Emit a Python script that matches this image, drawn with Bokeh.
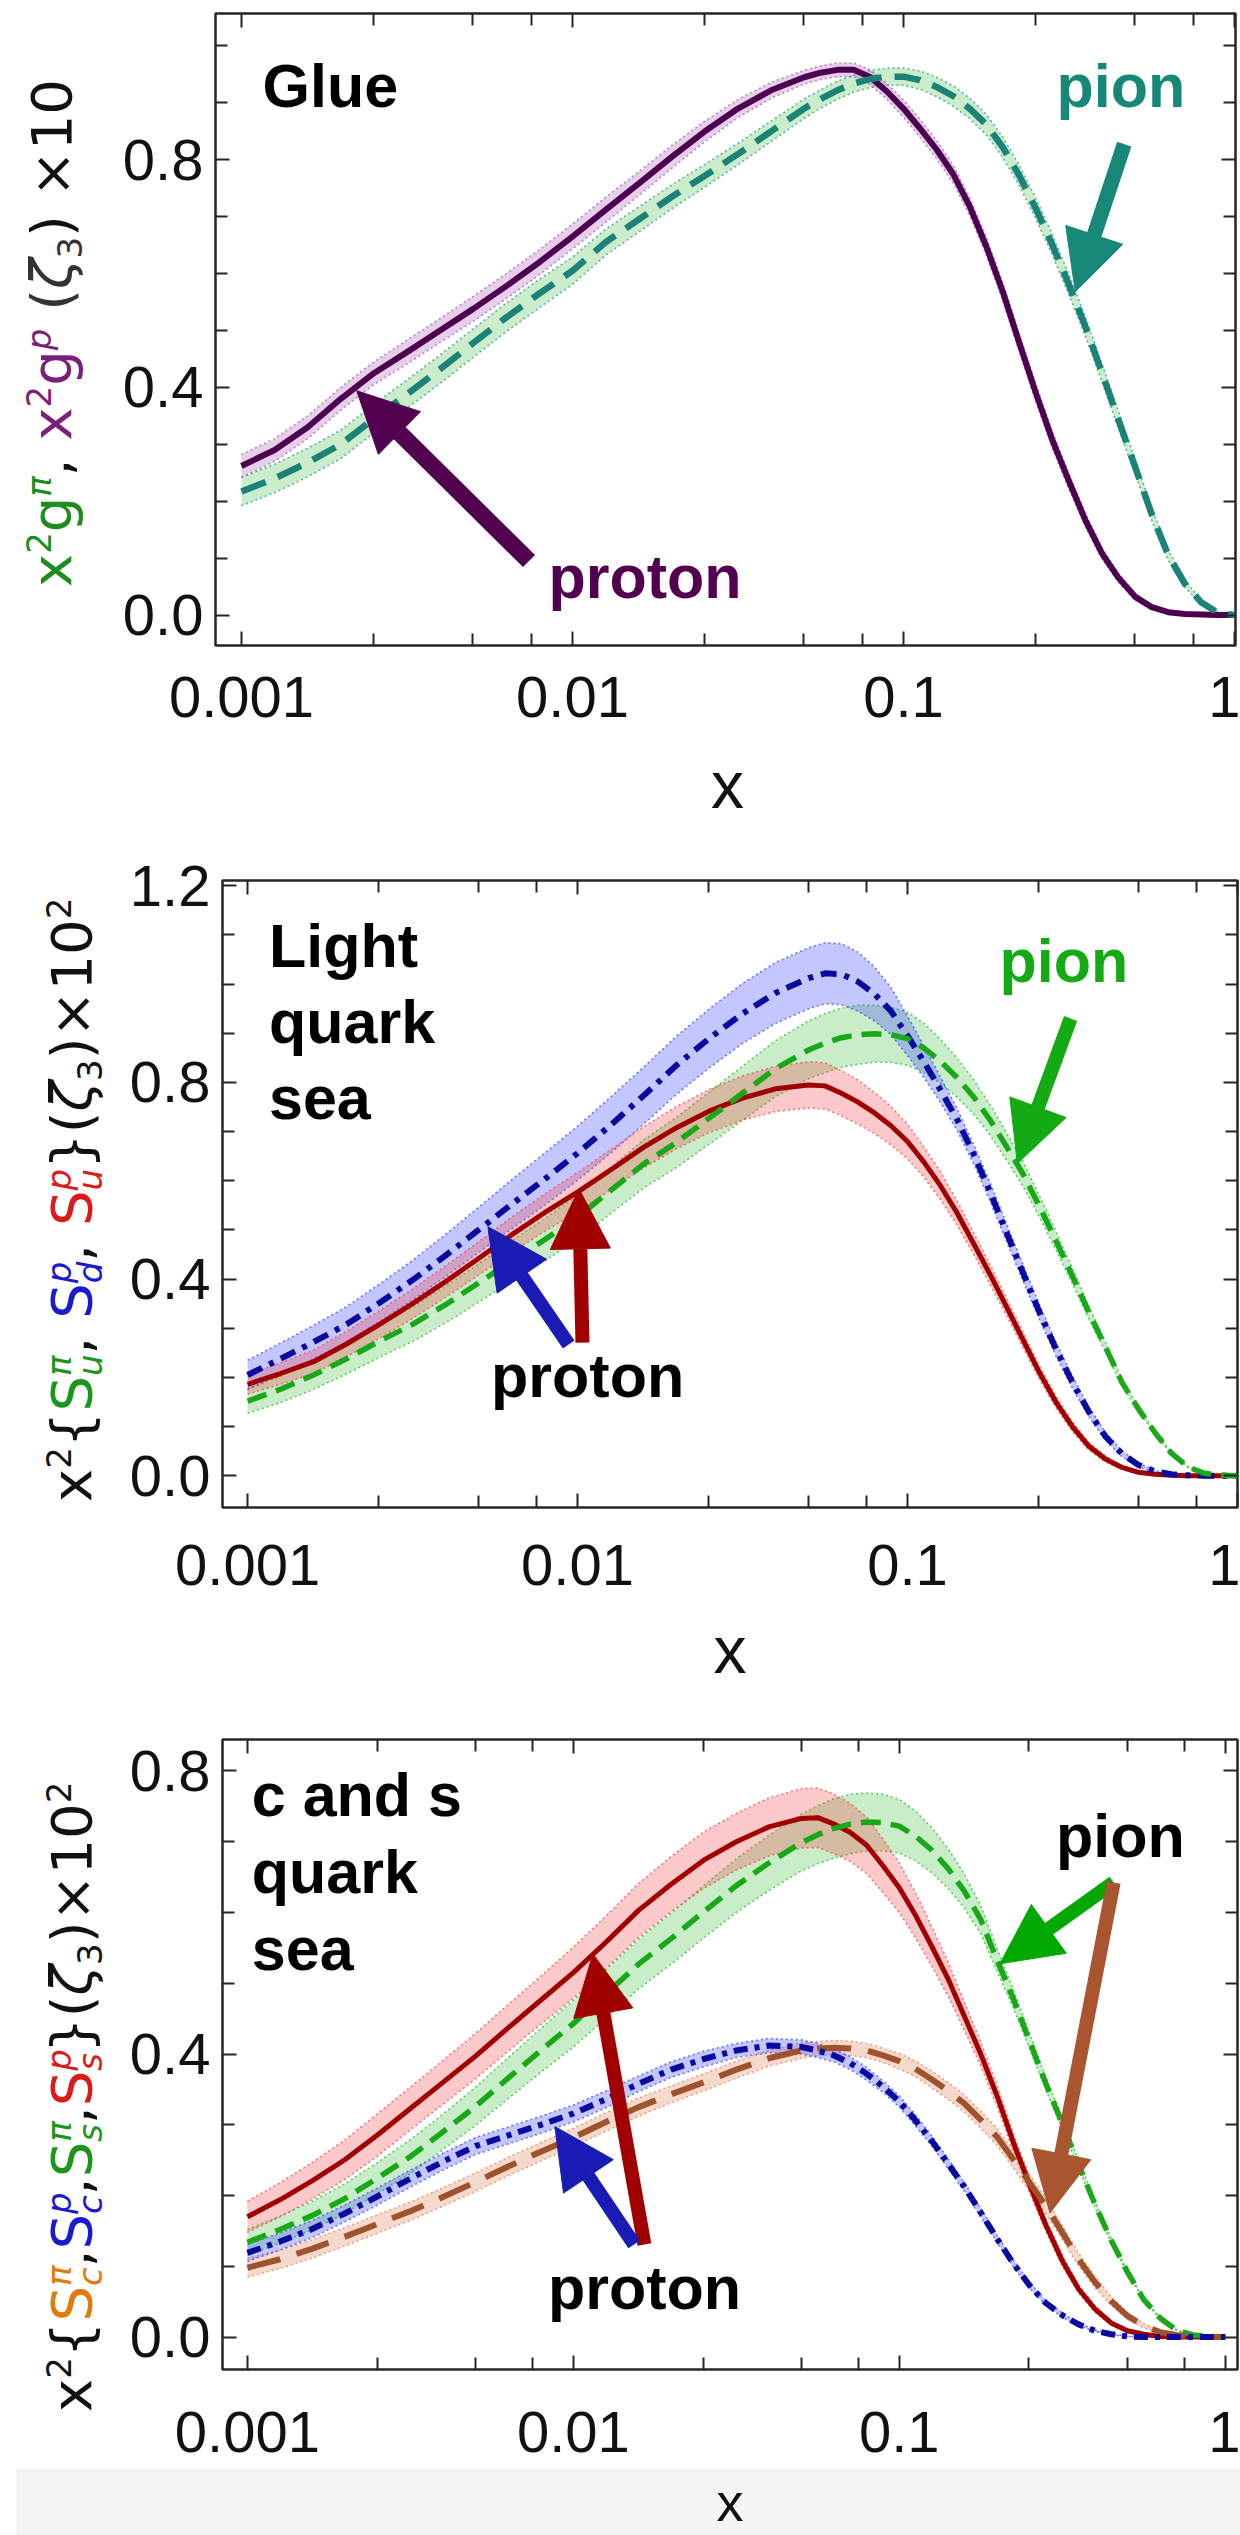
import math
from bokeh.plotting import figure
from bokeh.layouts import column, row
from bokeh.models import (Range1d, FixedTicker, LinearAxis, LogAxis, Label, Arrow, Div,
                          NormalHead, CustomJSTickFormatter, NumeralTickFormatter)
from bokeh.embed import file_html
from bokeh.resources import INLINE

# ---------------- data ----------------
LOGX = [-3.0, -2.9, -2.8, -2.7, -2.6, -2.5, -2.4, -2.3, -2.2, -2.1, -2.0, -1.9, -1.8, -1.7,
        -1.6, -1.5, -1.4, -1.3, -1.25, -1.2, -1.15, -1.1, -1.05, -1.0, -0.95, -0.9, -0.85,
        -0.8, -0.75, -0.7, -0.65, -0.6, -0.55, -0.5, -0.45, -0.4, -0.35, -0.3, -0.25, -0.2,
        -0.15, -0.1, -0.05, 0.0]

# Glue (x10)
GLUE_P = [.262, .290, .330, .380, .425, .462, .500, .538, .578, .620, .665, .712, .758, .805, .850, .890, .922, .945,
          .953, .958, .958, .945, .920, .890, .855, .818, .775, .718, .648, .568, .478, .390, .307, .235, .166, .108,
          .065, .032, .014, .005, .002, .001, .000, .000]
GLUE_P_ERR = [.020, .020, .020, .020, .020, .021, .021, .022, .022, .022, .022, .022, .021, .020, .018, .016, .014, .012,
              .012, .012, .012, .013, .014, .015, .016, .016, .016, .016, .016, .016, .016, .016, .015, .014, .012, .010,
              .008, .006, .004, .002, .001, .001, .000, .000]
GLUE_PI = [.217, .240, .268, .300, .345, .388, .432, .478, .523, .565, .605, .655, .695, .735, .772, .810, .850, .890,
           .907, .922, .934, .942, .946, .946, .940, .928, .912, .890, .862, .822, .772, .714, .650, .580, .506, .425,
           .342, .260, .177, .105, .055, .022, .004, .000]
GLUE_PI_ERR = [.025, .025, .025, .025, .025, .025, .025, .025, .025, .025, .024, .023, .022, .021, .020, .019, .018, .017,
               .016, .016, .015, .015, .015, .015, .016, .017, .018, .018, .018, .018, .018, .018, .018, .018, .017, .016,
               .015, .013, .011, .009, .006, .004, .002, .000]

# Light quark sea (x100)
LQ_DP = [.205, .238, .272, .308, .352, .398, .448, .500, .552, .603, .656, .713, .773, .835, .890, .940, .982, 1.012,
         1.022, 1.020, 1.005, .980, .945, .895, .842, .785, .725, .655, .578, .495, .413, .333, .258, .190, .130, .080,
         .045, .022, .009, .003, .001, .000, .000, .000]
LQ_DP_ERR = [.030, .032, .034, .036, .038, .040, .043, .046, .050, .053, .055, .057, .058, .059, .060, .061, .062, .062,
             .062, .062, .060, .055, .048, .040, .032, .026, .022, .020, .019, .018, .017, .015, .014, .012, .010, .008,
             .006, .004, .002, .001, .000, .000, .000, .000]
LQ_UP = [.186, .208, .232, .268, .308, .350, .395, .442, .490, .535, .577, .622, .668, .708, .742, .768, .787, .795,
         .793, .778, .760, .738, .712, .680, .638, .590, .535, .473, .410, .344, .277, .210, .150, .100, .060, .034,
         .017, .007, .003, .001, .000, .000, .000, .000]
LQ_UP_ERR = [.020, .022, .024, .026, .028, .030, .032, .034, .036, .038, .040, .041, .042, .043, .044, .045, .046, .047,
             .047, .046, .045, .042, .039, .035, .031, .028, .025, .022, .020, .018, .016, .014, .012, .010, .008, .006,
             .004, .003, .002, .001, .000, .000, .000, .000]
LQ_UPI = [.152, .176, .205, .238, .274, .308, .348, .392, .437, .480, .526, .580, .634, .678, .728, .778, .828, .866,
          .880, .891, .897, .899, .897, .889, .870, .843, .810, .771, .724, .670, .614, .548, .478, .406, .332, .262,
          .190, .136, .088, .046, .018, .005, .001, .000]
LQ_UPI_ERR = [.025, .027, .029, .031, .033, .035, .037, .039, .041, .043, .045, .047, .049, .051, .053, .055, .057, .059,
              .060, .060, .060, .058, .056, .054, .050, .045, .040, .035, .031, .028, .025, .022, .019, .016, .013, .010,
              .007, .005, .003, .002, .001, .000, .000, .000]

# c and s quark sea (x100)
CS_SP = [.170, .194, .221, .251, .286, .323, .360, .397, .437, .476, .515, .558, .603, .640, .674, .700, .721, .733,
         .734, .725, .713, .695, .666, .635, .596, .552, .506, .453, .400, .341, .275, .215, .158, .108, .068, .040,
         .020, .009, .004, .001, .000, .000, .000, .000]
CS_SP_ERR = [.022, .024, .026, .028, .030, .030, .031, .032, .033, .034, .036, .037, .038, .039, .040, .040, .041, .042,
             .042, .042, .041, .040, .038, .035, .032, .028, .024, .020, .017, .015, .013, .011, .009, .008, .006, .005,
             .003, .002, .001, .001, .000, .000, .000, .000]
CS_SPI = [.134, .152, .172, .196, .225, .255, .290, .326, .366, .405, .443, .485, .527, .563, .601, .638, .670, .699,
          .710, .719, .725, .728, .727, .722, .708, .688, .662, .630, .590, .533, .478, .418, .358, .302, .244, .188,
          .137, .092, .053, .027, .010, .003, .001, .000]
CS_SPI_ERR = [.018, .019, .020, .021, .022, .024, .025, .027, .029, .031, .033, .034, .035, .036, .037, .038, .039, .040,
              .041, .042, .042, .041, .040, .038, .035, .032, .028, .024, .020, .016, .013, .011, .009, .008, .006, .005,
              .003, .002, .001, .001, .000, .000, .000, .000]
CS_CP = [.119, .135, .153, .175, .199, .224, .248, .270, .285, .300, .316, .336, .358, .378, .393, .405, .412, .410,
         .405, .398, .387, .372, .354, .333, .306, .277, .245, .212, .176, .139, .104, .073, .048, .031, .018, .009,
         .004, .001, .000, .000, .000, .000, .000, .000]
CS_CP_ERR = [.012, .012, .012, .012, .012, .012, .012, .012, .012, .012, .012, .012, .011, .011, .011, .010, .010, .010,
             .010, .009, .009, .009, .008, .008, .008, .007, .007, .006, .006, .005, .005, .004, .003, .003, .002, .001,
             .001, .000, .000, .000, .000, .000, .000, .000]
CS_CPI = [.098, .110, .125, .142, .160, .178, .198, .219, .241, .262, .282, .304, .325, .343, .360, .378, .394, .405,
          .408, .409, .408, .405, .398, .390, .379, .364, .348, .330, .307, .283, .251, .218, .185, .148, .110, .078,
          .051, .030, .016, .007, .003, .001, .000, .000]
CS_CPI_ERR = [.013, .013, .013, .013, .013, .013, .013, .013, .013, .013, .013, .013, .013, .012, .012, .012, .011, .011,
              .010, .010, .010, .010, .010, .011, .011, .012, .012, .012, .012, .012, .012, .012, .011, .010, .009, .008,
              .006, .005, .003, .002, .001, .001, .000, .000]

XTICKS = [0.001, 0.01, 0.1, 1.0]
XMINOR = [0.0025, 0.005, 0.0075, 0.025, 0.05, 0.075, 0.25, 0.5, 0.75]

X = [10 ** v for v in LOGX]

# ---------------- helpers ----------------
TICK_COL = "#262626"
LW = 105  # width of the strip that carries the coloured y-axis titles
ADV = {' ': .318, ',': .318, '(': .390, ')': .390, '{': .636, '}': .636, 'x': .592, 'g': .635,
       'p': .635, 'S': .635, 'u': .634, 'd': .635, 'c': .550, 's': .521, 'π': .60, 'ζ': .50,
       '×': .838, '0': .636, '1': .636, '2': .636, '3': .636}


def no_align(f):
    if "frame_align" in f.properties():
        f.frame_align = False
    return f


def text_w(s, size):
    return sum(ADV.get(ch, .6) for ch in s) * size


def style_axis(ax, labels=True, standoff=12):
    ax.axis_line_color = None
    ax.major_tick_in = 14
    ax.major_tick_out = 0
    ax.minor_tick_in = 12
    ax.minor_tick_out = 0
    ax.major_tick_line_color = TICK_COL
    ax.major_tick_line_width = 2
    ax.minor_tick_line_color = TICK_COL
    ax.minor_tick_line_width = 2
    if labels:
        ax.major_label_text_font = "Liberation Sans"
        ax.major_label_text_font_size = "58px"
        ax.major_label_text_color = "#111111"
        ax.major_label_standoff = standoff
    else:
        ax.major_label_text_font_size = "0px"
        ax.major_label_standoff = 0
        ax.formatter = CustomJSTickFormatter(code="return '';")


def blank_fig(width, height, left=0, bg="white"):
    f = figure(width=width, height=height, x_range=Range1d(0, 1), y_range=Range1d(0, 1),
               output_backend="svg", toolbar_location=None, x_axis_location=None,
               y_axis_location=None, min_border_left=left, min_border_right=0,
               min_border_top=0, min_border_bottom=0)
    f.grid.visible = False
    f.outline_line_color = None
    f.background_fill_color = bg
    f.border_fill_color = "white"
    return no_align(f)


def make_fig(height, top, bottom, left, right, xlog, yr, yticks, yminor, xstand):
    p = figure(width=1240 - LW, height=height, x_axis_type="log",
               x_range=Range1d(10 ** xlog[0], 10 ** xlog[1]), y_range=Range1d(*yr),
               output_backend="svg", toolbar_location=None,
               min_border_top=top, min_border_bottom=bottom,
               min_border_left=left - LW, min_border_right=right)
    p.grid.visible = False
    p.outline_line_color = TICK_COL
    p.outline_line_width = 2.5
    p.background_fill_color = "white"
    p.border_fill_color = "white"
    p.xaxis.ticker = FixedTicker(ticks=XTICKS, minor_ticks=XMINOR)
    p.xaxis.formatter = CustomJSTickFormatter(code="return String(tick);")
    p.yaxis.ticker = FixedTicker(ticks=yticks, minor_ticks=yminor)
    p.yaxis.formatter = NumeralTickFormatter(format="0.0")
    for ax in p.xaxis:
        style_axis(ax, True, xstand)
    for ax in p.yaxis:
        style_axis(ax, True, 12)
    ta = LogAxis(ticker=FixedTicker(ticks=XTICKS, minor_ticks=XMINOR))
    style_axis(ta, False)
    p.add_layout(ta, "above")
    ra = LinearAxis(ticker=FixedTicker(ticks=yticks, minor_ticks=yminor))
    style_axis(ra, False)
    p.add_layout(ra, "right")
    return no_align(p)


def band(p, y, e, fill, alpha, edge):
    lo = [a - b for a, b in zip(y, e)]
    hi = [a + b for a, b in zip(y, e)]
    p.varea(x=X, y1=lo, y2=hi, fill_color=fill, fill_alpha=alpha)
    for yy in (lo, hi):
        p.line(X, yy, line_color=edge, line_width=1.6, line_dash="2 3", line_alpha=0.75)


def curve(p, y, color, width, dash="solid"):
    p.line(X, y, line_color=color, line_width=width, line_dash=dash, line_join="round")


def txt(p, s, sx, sy, color="black", fs=61, bold=True, align="left"):
    # sy is the wanted baseline; the label is anchored on the middle of its em box
    p.add_layout(Label(x=sx, y=sy + 0.3465 * fs, x_units="screen", y_units="screen", text=s,
                       text_font="Liberation Sans", text_font_size=f"{fs}px",
                       text_font_style="bold" if bold else "normal",
                       text_color=color, text_align=align, text_baseline="middle"))


def arrow(p, xs, ys, xe, ye, color, width=14, head=60):
    p.add_layout(Arrow(x_start=xs, y_start=ys, x_end=xe, y_end=ye, line_color=color,
                       line_width=width,
                       end=NormalHead(size=head, fill_color=color, line_color=color, line_width=1)))


def ylabel_div(pieces, height, start_top, baseline_x, fs=56, fs_small=34):
    """Vertical, multi-coloured axis title written as real (HTML) text, rotated by CSS."""
    parts = []
    for t, col in pieces:
        if t[0] in "^_":
            sup = sub = None
            for part in t.replace("_", "|_").replace("^", "|^").split("|"):
                if part.startswith("^"):
                    sup = part[1:]
                elif part.startswith("_"):
                    sub = part[1:]
            html = ""
            if sup:
                st = "font-style:italic;" if sup.isalpha() else ""
                html += (f'<span style="font-size:{fs_small}px;vertical-align:20px;{st}'
                         f'color:{col}">{sup}</span>')
            if sub:
                st = "font-style:italic;" if sub.isalpha() else ""
                ml = -text_w(sup, fs_small) if sup else 0
                html += (f'<span style="font-size:{fs_small}px;vertical-align:-11px;{st}'
                         f'margin-left:{ml:.1f}px;color:{col}">{sub}</span>')
            parts.append(html)
        else:
            st = "font-style:italic;" if t == "ζ" else ""
            parts.append(f'<span style="{st}color:{col}">{t.replace(" ", "&nbsp;")}</span>')
    left = baseline_x - 0.846 * fs
    inner = (f'<div style="position:absolute;left:{left:.1f}px;top:{start_top:.1f}px;'
             f'transform:rotate(-90deg);transform-origin:0 0;white-space:nowrap;'
             f'font-family:\'DejaVu Sans\';font-size:{fs}px;line-height:{fs}px;">'
             + "".join(parts) + "</div>")
    return Div(text=inner, width=LW, height=height, margin=(0, 0, 0, 0),
               styles={"position": "relative", "overflow": "visible"})


def xstrip(height, cx, center_from_bottom, left=0, bg="white", fs=66):
    f = blank_fig(1240 - left, height, 0, bg)
    f.add_layout(Label(x=cx - left, y=center_from_bottom + 0.087 * fs, x_units="screen",
                       y_units="screen", text="x", text_font="Liberation Sans",
                       text_font_size=f"{fs}px", text_color="#111111", text_align="center",
                       text_baseline="middle"))
    if left:
        return row(blank_fig(left, height), f, spacing=0)
    return f


K = "#111111"
K2 = "#333333"

# ---------------- panel 1 : glue ----------------
p1 = make_fig(740, 13, 95, 215, 5, (-3.0785, 0.003), (-0.0535, 1.057),
              [0, 0.4, 0.8], [0.1, 0.2, 0.3, 0.5, 0.6, 0.7, 0.9, 1.0], 31)
band(p1, GLUE_PI, GLUE_PI_ERR, "#2EB82E", 0.25, "#2E9E8E")
band(p1, GLUE_P, GLUE_P_ERR, "#9B3FA8", 0.25, "#B060C0")
curve(p1, GLUE_P, "#4D0050", 6)
curve(p1, GLUE_PI, "#1A8276", 6.5, "26 13")
txt(p1, "Glue", 47, 538)
txt(p1, "pion", 841, 538, color="#178878")
txt(p1, "proton", 333, 47, color="#520050")
arrow(p1, 0.00739, 0.095, 0.00223, 0.394, "#520050", 17)
arrow(p1, 0.4645, 0.8275, 0.3304, 0.568, "#178878", 15)
G1, P1 = "#1E8C1E", "#7B1F7B"
l1 = ylabel_div([("x", G1), ("^2", G1), ("g", G1), ("^π", G1), (", ", K), ("x", P1), ("^2", P1),
                 ("g", P1), ("^p", P1), (" (", K2), ("ζ", K2), ("_3", K2), (") ×10", K)],
                740, 587, 58)
s1 = xstrip(105, 727, 845 - 790)

# ---------------- panel 2 : light quark sea ----------------
p2 = make_fig(755, 35, 93, 222, 3, (-3.0761, 0.0003), (-0.0645, 1.2107),
              [0, 0.4, 0.8, 1.2], [0.1, 0.2, 0.3, 0.5, 0.6, 0.7, 0.9, 1.0, 1.1], 37)
band(p2, LQ_UPI, LQ_UPI_ERR, "#28B428", 0.25, "#30C030")
band(p2, LQ_DP, LQ_DP_ERR, "#3C46FF", 0.30, "#4050FF")
band(p2, LQ_UP, LQ_UP_ERR, "#F03C3C", 0.28, "#F05050")
curve(p2, LQ_UP, "#A00000", 5)
curve(p2, LQ_DP, "#0A0AA0", 6, "16 8 5 8")
curve(p2, LQ_UPI, "#18A818", 5.5, "20 10")
txt(p2, "Light", 46.5, 540)
txt(p2, "quark", 46.5, 464)
txt(p2, "sea", 46.5, 388)
txt(p2, "pion", 777, 525, color="#14AA14")
txt(p2, "proton", 268.6, 110.4)
arrow(p2, 0.0094, 0.267, 0.00535, 0.5066, "#1A1AB4", 14)
arrow(p2, 0.01035, 0.271, 0.0101, 0.5837, "#A00000", 14)
arrow(p2, 0.3122, 0.930, 0.2153, 0.635, "#14AA14", 14)
G2, B2, R2 = "#1A961A", "#1A1ACF", "#DD1A1A"
l2 = ylabel_div([("x", K), ("^2", K), ("{", K), ("S", G2), ("^π_u", G2), (", ", K), ("S", B2),
                 ("^p_d", B2), (", ", K), ("S", R2), ("^p_u", R2), ("}(", K), ("ζ", K), ("_3", K),
                 (")×10", K), ("^2", K)],
                755, 1502 - 845, 78)
s2 = xstrip(90, 729.5, 1690 - 1655)

# ---------------- panel 3 : c and s quark sea ----------------
p3 = make_fig(778, 49, 99, 222, 3, (-3.0764, 0.0377), (-0.0458, 0.8445),
              [0, 0.4, 0.8], [0.1, 0.2, 0.3, 0.5, 0.6, 0.7], 42)
band(p3, CS_SPI, CS_SPI_ERR, "#28B428", 0.25, "#30C030")
band(p3, CS_SP, CS_SP_ERR, "#F03C3C", 0.28, "#F05050")
band(p3, CS_CPI, CS_CPI_ERR, "#E0966E", 0.35, "#F08060")
band(p3, CS_CP, CS_CP_ERR, "#3C46FF", 0.30, "#4050FF")
curve(p3, CS_SP, "#A00000", 5)
curve(p3, CS_SPI, "#18A818", 5.5, "20 10")
curve(p3, CS_CPI, "#A0522D", 6, "34 17")
curve(p3, CS_CP, "#0A0AA0", 6, "14 7 5 7")
txt(p3, "c and s", 29.3, 553)
txt(p3, "quark", 29.3, 476)
txt(p3, "sea", 29.3, 399)
txt(p3, "pion", 833.6, 512)
txt(p3, "proton", 325.4, 60)
arrow(p3, 0.01652, 0.1309, 0.01148, 0.5413, "#A00000", 14)
arrow(p3, 0.01537, 0.1309, 0.00878, 0.2975, "#1A1AB4", 14)
arrow(p3, 0.4547, 0.6424, 0.2037, 0.5276, "#00A800", 14)
arrow(p3, 0.4547, 0.6424, 0.29, 0.1755, "#A85530", 14)
O3 = "#E07B10"
l3 = ylabel_div([("x", K), ("^2", K), ("{", K), ("S", O3), ("^π_c", O3), (",", K), ("S", B2),
                 ("^p_c", B2), (",", K), ("S", G2), ("^π_s", G2), (",", K), ("S", R2), ("^p_s", R2),
                 ("}(", K), ("ζ", K), ("_3", K), (")×10", K), ("^2", K)],
                778, 2412 - 1690, 78)
# the em box of the "x" is kept inside the 67 px grey strip at the foot of the page
s3 = xstrip(67, 729.5, 33.5 - 0.087 * 54, left=16, bg="#F4F4F4", fs=54)

layout = column(row(l1, p1, spacing=0), s1,
                row(l2, p2, spacing=0), s2,
                row(l3, p3, spacing=0), s3, spacing=0)
open("out.html", "w").write(file_html(layout, INLINE))
